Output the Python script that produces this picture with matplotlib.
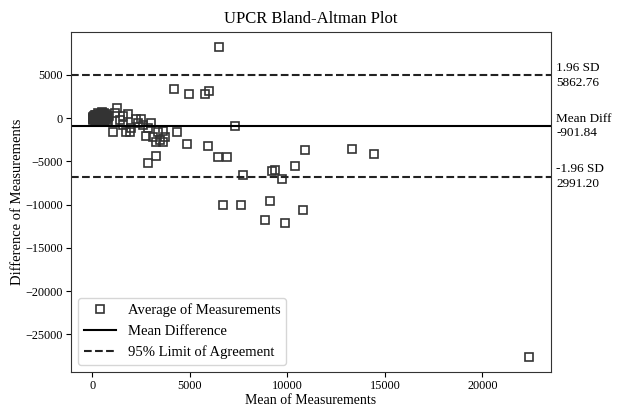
import numpy as np
import matplotlib.pyplot as plt

plt.rcParams['font.family'] = ['Liberation Serif', 'DejaVu Serif']

# means (x) and differences (y)
mean_vals = [6485, 4198, 4970, 5778, 6000, 1282, 1828, 1571, 7325, 7737,
             4352, 4853, 5948, 6433, 6928, 2861, 3258, 3634, 10902, 13325,
             14443, 10407, 9222, 9392, 9701, 9119, 10799, 8861, 9892, 6696,
             7639, 22381,
             2263, 2521, 2985, 2861, 3376, 3603, 3722, 3464, 3119, 2778,
             3258, 1916, 1745, 1062, 2003, 1571, 1402, 2602, 2344, 1164,
             30, 45, 60, 80, 95, 110, 130, 150, 170, 190, 210, 230, 250, 270,
             290, 310, 330, 350, 380, 400, 420, 450, 480, 500, 520, 550, 580,
             600, 620, 650, 680, 700, 720, 750, 780, 800, 60, 120, 200, 300,
             400, 500, 600, 700, 820, 850]
diff_vals = [8182, 3397, 2739, 2739, 3174, 1142, 450, 254, -900, -6520,
             -1627, -2977, -3208, -4443, -4443, -5135, -4420, -2804, -3670, -3554,
             -4131, -5485, -6108, -6027, -7065, -9567, -10597, -11748, -12128, -10017,
             -10097, -27558,
             -127, -127, -519, -1166, -1558, -1443, -2135, -2516, -2135, -2054,
             -2712, -1558, -1558, -1558, -1166, -785, -208, -785, -589, 565,
             50, -120, 180, -60, 260, 20, -200, 120, 350, -90, 40, 200, -250, 90,
             -30, 300, -150, 150, 420, -300, 60, 520, -100, 250, 650, -220, 380,
             100, 560, -350, 200, 480, -50, 300, -400, 150, -250, 400, -350, 550,
             -400, 600, -300, 100, -500, 250]

mean_diff = -901.84
sd196 = 5862.76
upper = mean_diff + sd196
lower = mean_diff - sd196

fig = plt.figure(figsize=(6.18, 4.08), dpi=100)
ax = fig.add_axes([0.115, 0.088, 0.776, 0.834])

ax.plot(mean_vals, diff_vals, 's', markersize=6, markerfacecolor='none',
        markeredgecolor='#333333', markeredgewidth=1.2,
        label='Average of Measurements')
ax.axhline(mean_diff, color='black', lw=1.5, label='Mean Difference')
ax.axhline(upper, color='#222222', lw=1.5, ls='--',
           label='95% Limit of Agreement')
ax.axhline(lower, color='#222222', lw=1.5, ls='--')

# labels at the right of the lines
tr = ax.get_yaxis_transform()
ax.text(1.012, upper, '1.96 SD\n5862.76', transform=tr, va='center',
        fontsize=9.5, linespacing=1.3)
ax.text(1.012, mean_diff, 'Mean Diff\n-901.84', transform=tr, va='center',
        fontsize=9.5, linespacing=1.3)
ax.text(1.012, lower, '-1.96 SD\n2991.20', transform=tr, va='center',
        fontsize=9.5, linespacing=1.3)

ax.set_title('UPCR Bland-Altman Plot', fontsize=12)
ax.set_xlabel('Mean of Measurements', fontsize=10, labelpad=1)
ax.set_ylabel('Difference of Measurements', fontsize=10.5, labelpad=1)
ax.tick_params(labelsize=8.8, pad=2.5)
for s in ax.spines.values():
    s.set_color('#333333')

ax.legend(loc='lower left', fontsize=10.5, edgecolor='#cccccc',
          handlelength=2.2)

fig.savefig('out.png', dpi=100)
